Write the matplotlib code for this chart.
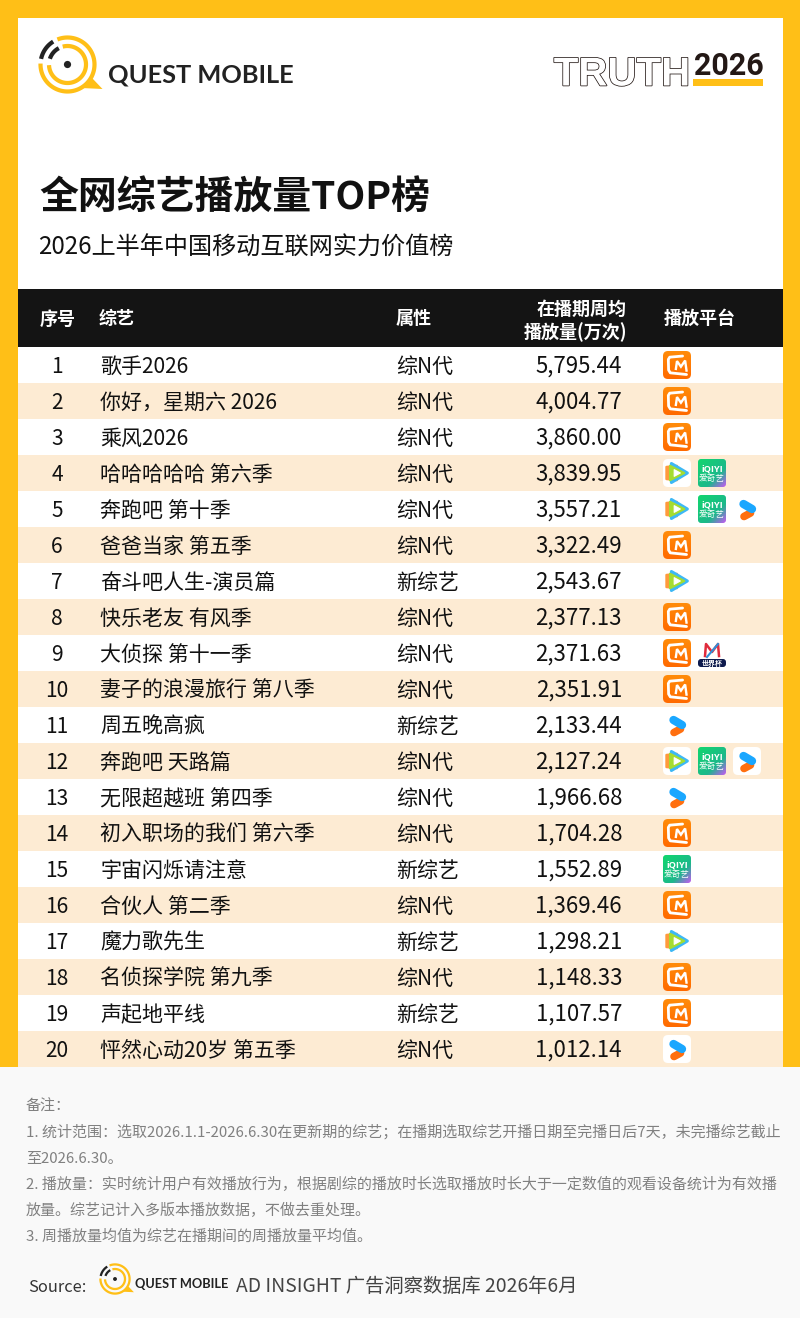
import numpy as np
import matplotlib
matplotlib.use("Agg")
import matplotlib.pyplot as plt
import matplotlib.patheffects as pe
from matplotlib.patches import Rectangle, FancyBboxPatch, Polygon, Circle

# full width punctuation
COMMA = "\uff0c"
COLON = "\uff1a"
SEMI = "\uff1b"

# ---- data ----
ranks = list(range(1, 21))
shows = ["歌手2026", "你好" + COMMA + "星期六 2026", "乘风2026", "哈哈哈哈哈 第六季", "奔跑吧 第十季",
         "爸爸当家 第五季", "奋斗吧人生-演员篇", "快乐老友 有风季", "大侦探 第十一季", "妻子的浪漫旅行 第八季",
         "周五晚高疯", "奔跑吧 天路篇", "无限超越班 第四季", "初入职场的我们 第六季", "宇宙闪烁请注意",
         "合伙人 第二季", "魔力歌先生", "名侦探学院 第九季", "声起地平线", "怦然心动20岁 第五季"]
kinds = ["综N代", "综N代", "综N代", "综N代", "综N代", "综N代", "新综艺", "综N代", "综N代", "综N代",
         "新综艺", "综N代", "综N代", "综N代", "新综艺", "综N代", "新综艺", "综N代", "新综艺", "综N代"]
plays = [5795.44, 4004.77, 3860.00, 3839.95, 3557.21, 3322.49, 2543.67, 2377.13, 2371.63, 2351.91,
         2133.44, 2127.24, 1966.68, 1704.28, 1552.89, 1369.46, 1298.21, 1148.33, 1107.57, 1012.14]
platforms = [["mango"], ["mango"], ["mango"], ["tencent", "iqiyi"], ["tencent", "iqiyi", "youku"],
             ["mango"], ["tencent"], ["mango"], ["mango", "migu"], ["mango"],
             ["youku"], ["tencent", "iqiyi", "youku"], ["youku"], ["mango"], ["iqiyi"],
             ["mango"], ["tencent"], ["mango"], ["mango"], ["youku"]]
notes = ["备注" + COLON,
         "1. 统计范围" + COLON + "选取2026.1.1-2026.6.30在更新期的综艺" + SEMI
         + "在播期选取综艺开播日期至完播日后7天" + COMMA + "未完播综艺截止",
         "至2026.6.30。",
         "2. 播放量" + COLON + "实时统计用户有效播放行为" + COMMA
         + "根据剧综的播放时长选取播放时长大于一定数值的观看设备统计为有效播",
         "放量。综艺记计入多版本播放数据" + COMMA + "不做去重处理。",
         "3. 周播放量均值为综艺在播期间的周播放量平均值。"]

YELLOW = "#FFBF17"
BEIGE = "#FDEBD3"
DARK = "#141414"
CJK = ["Noto Sans CJK SC", "DejaVu Sans"]
plt.rcParams["font.family"] = CJK

fig = plt.figure(figsize=(8, 13.18), dpi=100)
ax = fig.add_axes([0, 0, 1, 1])
ax.set_xlim(0, 800)
ax.set_ylim(1318, 0)
ax.axis("off")


def rect(x, y, w, h, color, z=1):
    ax.add_patch(Rectangle((x, y), w, h, fc=color, ec="none", zorder=z))


def rbox(x, y, w, h, r, color, z=3):
    p = FancyBboxPatch((x, y), w, h, boxstyle=f"round,pad=0,rounding_size={r}",
                       fc=color, ec="none", zorder=z)
    ax.add_patch(p)
    return p


def gradient(x, y, size, r, c1, c2, diagonal=False, c3=None):
    # gradient filled rounded icon
    clip = rbox(x, y, size, size, r, "none", z=3)
    n = 40
    t = np.linspace(0, 1, n)
    u, v = np.meshgrid(t, t)
    k = (u + v) / 2 if diagonal else v
    a, b = np.array(matplotlib.colors.to_rgb(c1)), np.array(matplotlib.colors.to_rgb(c2))
    img = a[None, None, :] * (1 - k[..., None]) + b[None, None, :] * k[..., None]
    if c3 is not None:
        c = np.array(matplotlib.colors.to_rgb(c3))
        m = np.clip((k[..., None] - 0.65) / 0.35, 0, 1)
        img = img * (1 - m) + c[None, None, :] * m
    im = ax.imshow(img, extent=(x, x + size, y + size, y), origin="upper", aspect="auto", zorder=3)
    im.set_clip_path(clip)


def arc(cx, cy, r, a0, a1, color, lw):
    t = np.radians(np.linspace(a0, a1, 80))
    ax.plot(cx + r * np.cos(t), cy - r * np.sin(t), color=color, lw=lw, solid_capstyle="butt", zorder=4)


def qm_logo(cx, cy, s):
    lw = 4.2 * s * 0.72
    arc(cx, cy, 27 * s, 112, -182, YELLOW, lw)
    arc(cx, cy, 18.5 * s, 105, -178, YELLOW, lw)
    arc(cx, cy, 27 * s, 122, 168, "#222222", lw)
    arc(cx, cy, 18.5 * s, 118, 162, "#222222", lw)
    ax.add_patch(Circle((cx, cy), 3.6 * s, fc="#222222", ec="none", zorder=4))
    ax.add_patch(Polygon([(cx + 25 * s, cy + 14 * s), (cx + 35 * s, cy + 24.5 * s), (cx + 14 * s, cy + 23.5 * s)],
                         fc=YELLOW, ec="none", zorder=4))


def mango(x, y):
    gradient(x, y, 28, 5, "#FF8C0A", "#FF6A00")
    ux = lambda a: x + a * 28
    uy = lambda a: y + a * 28
    ax.plot([ux(.7), ux(.24), ux(.19), ux(.2), ux(.26), ux(.84)],
            [uy(.18), uy(.22), uy(.3), uy(.68), uy(.78), uy(.84)],
            color="white", lw=2.0, solid_joinstyle="round", solid_capstyle="round", zorder=4)
    ax.plot([ux(.46), ux(.5), ux(.64), ux(.79), ux(.84)], [uy(.64), uy(.36), uy(.56), uy(.34), uy(.7)],
            color="white", lw=1.7, solid_joinstyle="miter", zorder=4)


def tencent(x, y):
    rbox(x, y, 28, 28, 5, "white")
    pt = lambda pts: [(x + a * 28, y + b * 28) for a, b in pts]
    ax.add_patch(Polygon(pt([(.12, .28), (.5, .24), (.5, .76), (.12, .72)]), fc="#FF9A3C", ec="#FF9A3C",
                         lw=1.5, joinstyle="round", zorder=4))
    ax.add_patch(Polygon(pt([(.3, .16), (.87, .5), (.3, .84)]), fc="#3DB8F5", ec="#3DB8F5",
                         lw=2.2, joinstyle="round", zorder=4))
    ax.add_patch(Polygon(pt([(.25, .24), (.76, .5), (.25, .76)]), fc="#A5DC30", ec="#A5DC30",
                         lw=1.5, joinstyle="round", zorder=5))
    ax.add_patch(Polygon(pt([(.4, .38), (.62, .5), (.4, .62)]), fc="white", ec="white",
                         lw=.8, joinstyle="round", zorder=6))


def iqiyi(x, y):
    gradient(x, y, 28, 3, "#12D66E", "#22A89A", diagonal=True, c3="#C45CF0")
    ax.text(x + 14, y + 10, "iQIYI", color="white", fontsize=6.6, fontweight="bold", ha="center", va="center",
            family=["Open Sans", "DejaVu Sans"], zorder=5)
    ax.text(x + 14, y + 19.5, "爱奇艺", color="white", fontsize=6.2, ha="center", va="center", zorder=5)


def youku(x, y):
    rbox(x, y, 28, 28, 5, "white")
    ax.plot([x + 17.5, x + 11], [y + 18, y + 21.5], color="#FF6F0F", lw=5.5, solid_capstyle="round", zorder=4)
    ax.plot([x + 10.5, x + 19], [y + 9, y + 14], color="#1AA7FF", lw=6, solid_capstyle="round", zorder=5)


def migu(x, y):
    rbox(x, y, 28, 28, 5, "white")
    ax.plot([x + 7, x + 8, x + 14, x + 20, x + 21], [y + 17, y + 5, y + 13, y + 5, y + 17],
            color="#E02B3C", lw=1.8, zorder=4)
    ax.plot([x + 9, x + 20], [y + 18, y + 5], color="#2F8FD8", lw=1.5, zorder=5)
    rbox(x, y + 20, 28, 8, 3, "#0E1B4D", z=4)
    ax.text(x + 14, y + 24, "世界杯", color="white", fontsize=5, fontweight="bold", ha="center", va="center", zorder=6)


ICONS = {"mango": mango, "tencent": tencent, "iqiyi": iqiyi, "youku": youku, "migu": migu}

# ---- background ----
rect(0, 0, 800, 1318, YELLOW, 0)
rect(18, 18, 765, 1049, "white", 0.5)
rect(0, 1067, 800, 251, "#F9F9F9", 0.5)

# ---- header ----
qm_logo(67.5, 64.5, 1.0)
ax.text(108.5, 75, "QUEST MOBILE", fontsize=18.3, fontweight="bold", color="#222222", va="center",
        family=["Lato", "DejaVu Sans"])

t = ax.text(622, 85.5, "TRUTH", fontsize=29, fontweight="bold", ha="center", va="baseline", color="white",
            family=["Liberation Sans", "DejaVu Sans"])
t.set_path_effects([pe.Stroke(linewidth=1.1, foreground="#231815"), pe.Normal()])
ax.text(729, 75, "2026", fontsize=22, fontweight="bold", ha="center", va="baseline", color="#231815",
        family=["Roboto", "DejaVu Sans"])
rect(693, 79, 70, 7, YELLOW, 2)

ax.text(39, 198, "全网综艺播放量TOP榜", fontsize=28, fontweight="bold", color="#111111", va="center")
ax.text(38, 248, "2026上半年中国移动互联网实力价值榜", fontsize=17.4, color="#111111", va="center")

# ---- table ----
rect(18, 289, 765, 58, DARK, 1)
hdr = dict(color="white", fontsize=13, fontweight="bold", va="center", zorder=3)
ax.text(58, 319, "序号", ha="center", **hdr)
ax.text(99, 318.5, "综艺", ha="left", **hdr)
ax.text(396, 318.5, "属性", ha="left", **hdr)
ax.text(627, 309.5, "在播期周均", ha="right", **hdr)
ax.text(627.5, 332.5, "播放量(万次)", ha="right", **hdr)
ax.text(664, 318.5, "播放平台", ha="left", **hdr)

row_h = 36
top = 347
for i, rank in enumerate(ranks):
    y0 = top + i * row_h
    base = y0 + 26
    if i % 2 == 1:
        rect(18, y0, 765, row_h, BEIGE, 1)
    cell = dict(color="#111111", fontsize=15.1, va="baseline", zorder=3, fontweight="medium")
    ax.text(57, base, str(rank), ha="center", **cell)
    ax.text(100, base, shows[i], ha="left", **cell)
    ax.text(396, base, kinds[i], ha="left", **cell)
    ax.text(622, base, f"{plays[i]:,.2f}", ha="right", **{**cell, "fontsize": 16})
    for j, name in enumerate(platforms[i]):
        ICONS[name](663 + j * 35, y0 + 4)

# ---- footer ----
note_base = [1111, 1137, 1163, 1189, 1215, 1241]
for s, y in zip(notes, note_base):
    ax.text(26, y, s, color="#808080", fontsize=10.8, va="baseline")

ax.text(28, 1287, "Source:", color="#333333", fontsize=11.8, va="center")
qm_logo(115, 1279, 0.54)
ax.text(135, 1284, "QUEST MOBILE", fontsize=9.2, fontweight="bold", color="#222222", va="center",
        family=["Lato", "DejaVu Sans"])
ax.text(236, 1286, "AD INSIGHT 广告洞察数据库 2026年6月", color="#444444", fontsize=13.9, va="center")

fig.savefig("out.png", dpi=100)
